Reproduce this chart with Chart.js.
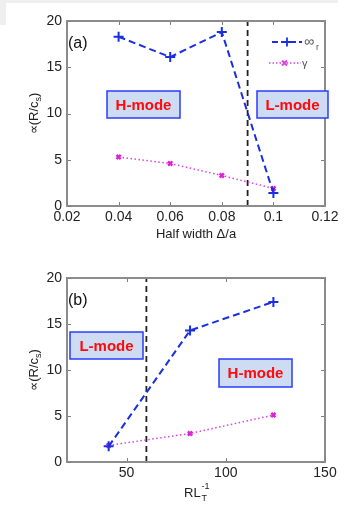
<!DOCTYPE html>
<html>
<head>
<meta charset="utf-8">
<script src="https://cdn.jsdelivr.net/npm/chart.js@4.4.0/dist/chart.umd.min.js"></script>
<style>
  html, body { margin: 0; padding: 0; background: #fff; }
  body { width: 344px; height: 511px; position: relative; overflow: hidden; }
  .strip { position: absolute; background: #efefef; }
  #wrapA { position: absolute; left: 0; top: 0; width: 344px; height: 250px; }
  #wrapB { position: absolute; left: 0; top: 250px; width: 344px; height: 261px; }
</style>
</head>
<body>
<div id="wrapA"><canvas id="chartA"></canvas></div>
<div id="wrapB"><canvas id="chartB"></canvas></div>
<div class="strip" style="left:0;top:0;width:338px;height:3px"></div>
<div class="strip" style="left:0;top:3px;width:6px;height:22px"></div>
<script>
'use strict';
/* data (a) */
var xA = [0.04, 0.06, 0.08, 0.1];
var omegaA = [18.3, 16.1, 18.8, 1.4];
var gammaA = [5.3, 4.6, 3.3, 1.9];
var boundaryA = 0.09;
var xTicksA = [0.02, 0.04, 0.06, 0.08, 0.1, 0.12];

/* data (b) */
var xB = [41, 82, 124];
var omegaB = [1.7, 14.3, 17.4];
var gammaB = [1.8, 3.1, 5.1];
var boundaryB = 60;
var xTicksB = [50, 100, 150];

var yTicks = [0, 5, 10, 15, 20];

var FONT = 'Liberation Sans, Arial, sans-serif';
var BLUE = '#1a2fe0';
var MAG = '#e040e0';

function pts(xs, ys) {
  return xs.map(function(x, i) { return {x: x, y: ys[i]}; });
}

function fmt(v) { return String(parseFloat(v.toFixed(3))); }

/* frame + inward ticks, titles, mode boxes, legend */
var framePlugin = {
  id: 'frame',
  afterDraw: function(chart) {
    var c = chart.ctx, a = chart.chartArea, o = chart.options.plugins.frame;
    var sx = chart.scales.x, sy = chart.scales.y;
    var L = Math.round(a.left), R = Math.round(a.right), T = Math.round(a.top), B = Math.round(a.bottom);
    c.save();
    c.setLineDash([]);
    c.globalAlpha = 1;
    // box (filled rects so no dash state gets in the way)
    c.fillStyle = '#8c8c8c';
    c.fillRect(L - 1, T - 1, R - L + 2, 2);
    c.fillRect(L - 1, B - 1, R - L + 2, 2);
    c.fillRect(L - 1, T - 1, 2, B - T + 2);
    c.fillRect(R - 1, T - 1, 2, B - T + 2);
    c.fillStyle = '#808080';
    o.xticks.forEach(function(t) {
      var px = Math.round(sx.getPixelForValue(t));
      c.fillRect(px, B - 4, 1, 3);
      c.fillRect(px, T + 1, 1, 3);
    });
    yTicks.forEach(function(t) {
      var py = Math.round(sy.getPixelForValue(t));
      c.fillRect(L + 1, py, 3, 1);
      c.fillRect(R - 4, py, 3, 1);
    });

    // panel tag
    c.fillStyle = '#111';
    c.font = '16px ' + FONT;
    c.textBaseline = 'middle';
    c.textAlign = 'left';
    c.fillText(o.tag, a.left + 1, a.top + 23);

    // y title
    c.save();
    c.translate(a.left - 33, (a.top + a.bottom) / 2);
    c.rotate(-Math.PI / 2);
    c.font = '13px ' + FONT;
    c.fillStyle = '#222';
    var t1 = '\u221d(R/c', w1 = c.measureText(t1).width;
    c.font = '9px ' + FONT;
    var ws = c.measureText('s').width;
    c.font = '13px ' + FONT;
    var w2 = c.measureText(')').width;
    var x0 = -(w1 + ws + w2) / 2;
    c.textAlign = 'left';
    c.fillText(t1, x0, 0);
    c.font = '9px ' + FONT;
    c.fillText('s', x0 + w1, 5);
    c.font = '13px ' + FONT;
    c.fillText(')', x0 + w1 + ws, 0);
    c.restore();

    // x title
    var cx = (a.left + a.right) / 2;
    c.font = '13px ' + FONT;
    c.fillStyle = '#222';
    if (o.xtitle) {
      c.textAlign = 'center';
      c.fillText(o.xtitle, cx, a.bottom + 28);
    } else {
      var wr = c.measureText('RL').width;
      c.textAlign = 'left';
      c.fillText('RL', cx - 12, a.bottom + 31);
      c.font = '9px ' + FONT;
      c.fillText('-1', cx - 12 + wr + 1, a.bottom + 25);
      c.fillText('T', cx - 12 + wr + 1, a.bottom + 37);
    }

    // mode boxes
    o.boxes.forEach(function(b) {
      var l = Math.round(sx.getPixelForValue(b.x0)), r = Math.round(sx.getPixelForValue(b.x1));
      var t = Math.round(sy.getPixelForValue(b.y1)), bt = Math.round(sy.getPixelForValue(b.y0));
      c.fillStyle = '#cddbf3';
      c.fillRect(l, t, r - l, bt - t);
      c.strokeStyle = '#2a3cff';
      c.lineWidth = 1.5;
      c.strokeRect(l, t, r - l, bt - t);
      c.fillStyle = '#ff0a0a';
      c.font = 'bold 15px ' + FONT;
      c.textAlign = 'center';
      c.textBaseline = 'middle';
      c.fillText(b.text, (l + r) / 2, (t + bt) / 2 + 1);
    });

    // legend
    if (o.legend) {
      var lx = a.right - 53, ly = a.top + 21;
      c.lineWidth = 1.8;
      c.strokeStyle = BLUE;
      c.setLineDash([6, 3]);
      c.beginPath(); c.moveTo(lx, ly); c.lineTo(lx + 30, ly); c.stroke();
      c.setLineDash([]);
      c.beginPath();
      c.moveTo(lx + 10, ly); c.lineTo(lx + 20, ly);
      c.moveTo(lx + 15, ly - 4.5); c.lineTo(lx + 15, ly + 4.5);
      c.stroke();
      c.fillStyle = '#555';
      c.font = '14px ' + FONT;
      c.textAlign = 'left';
      c.fillText('\u221e', lx + 32, ly);
      c.font = '9px ' + FONT;
      c.fillText('r', lx + 44, ly + 6);

      var gy = ly + 21;
      c.strokeStyle = MAG;
      c.lineWidth = 1.5;
      c.setLineDash([1.5, 2]);
      c.beginPath(); c.moveTo(lx - 3, gy); c.lineTo(lx + 29, gy); c.stroke();
      c.setLineDash([]);
      c.lineWidth = 2;
      c.beginPath();
      c.moveTo(lx + 10, gy - 2.5); c.lineTo(lx + 15, gy + 2.5);
      c.moveTo(lx + 10, gy + 2.5); c.lineTo(lx + 15, gy - 2.5);
      c.stroke();
      c.fillStyle = '#555';
      c.font = '11px ' + FONT;
      c.fillText('\u03b3', lx + 30, gy + 1);
    }
    c.restore();
  }
};

function makeChart(id, xs, om, ga, bound, xmin, xmax, xticks, opts) {
  return new Chart(document.getElementById(id), {
    type: 'line',
    data: {
      datasets: [
        {
          data: pts(xs, om),
          borderColor: BLUE, borderWidth: 2, borderDash: [7, 4],
          pointStyle: 'cross', pointRadius: 5, pointBorderWidth: 2,
          pointBorderColor: BLUE, fill: false, tension: 0
        },
        {
          data: pts(xs, ga),
          borderColor: MAG, borderWidth: 1.5, borderDash: [1.5, 2.5],
          pointStyle: 'crossRot', pointRadius: 3, pointBorderWidth: 2.4,
          pointBorderColor: '#e020d8', fill: false, tension: 0
        },
        {
          data: [{x: bound, y: 0}, {x: bound, y: 20}],
          borderColor: '#222', borderWidth: 1.8, borderDash: [6, 4],
          pointRadius: 0, fill: false
        }
      ]
    },
    options: {
      responsive: true,
      maintainAspectRatio: false,
      animation: false,
      layout: { padding: { left: 0, right: 19, top: opts.top, bottom: 0 } },
      plugins: {
        legend: { display: false },
        tooltip: { enabled: false },
        frame: opts
      },
      scales: {
        x: {
          type: 'linear', min: xmin, max: xmax,
          grid: { display: false, drawTicks: false }, border: { display: false },
          afterBuildTicks: function(s) { s.ticks = xticks.map(function(v) { return {value: v}; }); },
          afterFit: function(s) { s.height = opts.xh; },
          ticks: {
            color: '#222', font: { family: FONT, size: 14 }, padding: 3,
            maxRotation: 0, autoSkip: false,
            callback: function(v) { return fmt(v); }
          }
        },
        y: {
          type: 'linear', min: 0, max: 20,
          grid: { display: false, drawTicks: false }, border: { display: false },
          afterBuildTicks: function(s) { s.ticks = yTicks.map(function(v) { return {value: v}; }); },
          afterFit: function(s) { s.width = 67; },
          ticks: { color: '#222', font: { family: FONT, size: 14 }, padding: 5 }
        }
      }
    },
    plugins: [framePlugin]
  });
}

makeChart('chartA', xA, omegaA, gammaA, boundaryA, 0.02, 0.12, xTicksA, {
  top: 21, xh: 44, tag: '(a)', xtitle: 'Half width \u0394/a', legend: true,
  xticks: xTicksA,
  boxes: [
    {text: 'H-mode', x0: 0.0355, x1: 0.0638, y0: 9.5, y1: 12.4},
    {text: 'L-mode', x0: 0.0935, x1: 0.1210, y0: 9.5, y1: 12.4}
  ]
});

makeChart('chartB', xB, omegaB, gammaB, boundaryB, 20, 150, xTicksB, {
  top: 28, xh: 49, tag: '(b)', xtitle: null, legend: false,
  xticks: xTicksB,
  boxes: [
    {text: 'L-mode', x0: 21.5, x1: 58.3, y0: 11.2, y1: 14.1},
    {text: 'H-mode', x0: 96.6, x1: 133.4, y0: 8.2, y1: 11.2}
  ]
});
</script>
</body>
</html>
